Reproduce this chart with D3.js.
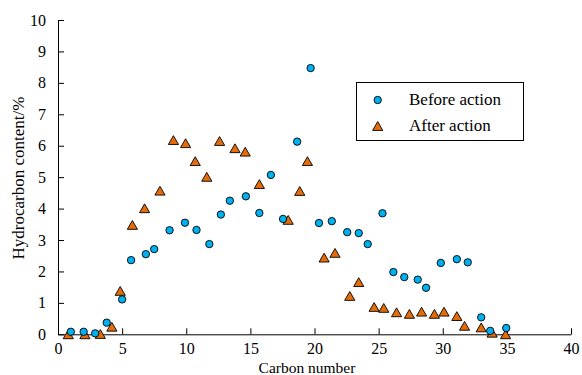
<!DOCTYPE html>
<meta charset="utf-8">
<style>
body { margin: 0; background: #fff; }
.axis path, .axis line { stroke: #000; stroke-width: 1; }
</style>
<svg width="582" height="375"></svg>
<script src="https://cdn.jsdelivr.net/npm/d3@7"></script>
<script>

// before action (blue)
var beforeCarbon = [1, 2, 2.9, 3.8, 5, 5.7, 6.85, 7.5, 8.7, 9.9, 10.8, 11.8, 12.7, 13.4, 14.65, 15.7, 16.6, 17.55,
  18.65, 19.7, 20.35, 21.35, 22.55, 23.45, 24.15, 25.3, 26.15, 27, 28.05, 28.7, 29.85, 31.1, 31.95, 33, 33.7, 34.95];
var beforeValue = [0.08, 0.08, 0.03, 0.37, 1.11, 2.36, 2.55, 2.71, 3.31, 3.55, 3.32, 2.87, 3.81, 4.25, 4.39, 3.86, 5.07, 3.67,
  6.13, 8.47, 3.54, 3.6, 3.25, 3.22, 2.87, 3.85, 1.98, 1.82, 1.74, 1.48, 2.27, 2.39, 2.29, 0.54, 0.11, 0.2];

// after action (orange)
var afterCarbon = [0.8, 2.1, 3.3, 4.2, 4.85, 5.8, 6.75, 7.95, 9, 9.95, 10.7, 11.6, 12.6, 13.8, 14.6, 15.7, 17.95,
  18.85, 19.45, 20.75, 21.6, 22.75, 23.45, 24.65, 25.4, 26.4, 27.4, 28.35, 29.35, 30.1, 31.1, 31.7, 33, 33.85, 34.9];
var afterValue = [0, 0, 0.01, 0.24, 1.38, 3.48, 4.01, 4.57, 6.18, 6.08, 5.51, 5.01, 6.15, 5.92, 5.81, 4.78, 3.64,
  4.56, 5.51, 2.44, 2.59, 1.22, 1.66, 0.87, 0.84, 0.7, 0.65, 0.72, 0.65, 0.72, 0.58, 0.27, 0.22, 0.05, 0];

var seriesNames = ["Before action", "After action"];
var xTicks = [0, 5, 10, 15, 20, 25, 30, 35, 40];
var yTicks = [0, 1, 2, 3, 4, 5, 6, 7, 8, 9, 10];

var serif = "'Liberation Serif', 'Times New Roman', Tinos, 'DejaVu Serif', serif";

var svg = d3.select("svg");

var x = d3.scaleLinear().domain([0, 40]).range([58, 571]);
var y = d3.scaleLinear().domain([0, 10]).range([334.3, 20]);

svg.append("g")
    .attr("class", "axis")
    .attr("transform", "translate(0," + y(0) + ")")
    .call(d3.axisBottom(x).tickValues(xTicks).tickSizeInner(-6).tickSizeOuter(0).tickPadding(8))
    .attr("font-family", serif)
    .attr("font-size", 16);

svg.append("g")
    .attr("class", "axis")
    .attr("transform", "translate(" + x(0) + ",0)")
    .call(d3.axisLeft(y).tickValues(yTicks).tickSizeInner(-6).tickSizeOuter(0).tickPadding(12))
    .attr("font-family", serif)
    .attr("font-size", 16);

svg.append("text")
    .attr("x", 307)
    .attr("y", 373)
    .attr("text-anchor", "middle")
    .attr("font-family", serif)
    .attr("font-size", 15.5)
    .text("Carbon number");

svg.append("text")
    .attr("transform", "translate(24,178) rotate(-90)")
    .attr("text-anchor", "middle")
    .attr("font-family", serif)
    .attr("font-size", 17)
    .text("Hydrocarbon content/%");

// triangle centred on its bounding box
var triangle = {
  draw: function (ctx, size) {
    var w = Math.sqrt(size * 4 / Math.sqrt(3));
    var h = w * Math.sqrt(3) / 2;
    ctx.moveTo(0, -h / 2);
    ctx.lineTo(w / 2, h / 2);
    ctx.lineTo(-w / 2, h / 2);
    ctx.closePath();
  }
};
var triPath = d3.symbol().type(triangle).size(45)();

var after = afterCarbon.map(function (c, i) { return { c: c, v: afterValue[i] }; });
var before = beforeCarbon.map(function (c, i) { return { c: c, v: beforeValue[i] }; });

svg.append("g")
  .selectAll("path")
  .data(after)
  .enter().append("path")
    .attr("d", triPath)
    .attr("transform", function (d) { return "translate(" + x(d.c) + "," + y(d.v) + ")"; })
    .attr("fill", "#E46C0A")
    .attr("stroke", "#000")
    .attr("stroke-width", 0.9);

svg.append("g")
  .selectAll("circle")
  .data(before)
  .enter().append("circle")
    .attr("cx", function (d) { return x(d.c); })
    .attr("cy", function (d) { return y(d.v); })
    .attr("r", 3.7)
    .attr("fill", "#00B0F0")
    .attr("stroke", "#000")
    .attr("stroke-width", 0.9);

// legend
var legend = svg.append("g");
legend.append("rect")
    .attr("x", 356.5)
    .attr("y", 82.5)
    .attr("width", 167)
    .attr("height", 58)
    .attr("fill", "#fff")
    .attr("stroke", "#000")
    .attr("stroke-width", 1);

legend.append("circle")
    .attr("cx", 377.7)
    .attr("cy", 100)
    .attr("r", 3.7)
    .attr("fill", "#00B0F0")
    .attr("stroke", "#000")
    .attr("stroke-width", 0.9);

legend.append("path")
    .attr("d", triPath)
    .attr("transform", "translate(377.7,126)")
    .attr("fill", "#E46C0A")
    .attr("stroke", "#000")
    .attr("stroke-width", 0.9);

legend.selectAll("text.lbl")
  .data(seriesNames)
  .enter().append("text")
    .attr("class", "lbl")
    .attr("x", 409)
    .attr("y", function (d, i) { return 105 + i * 26; })
    .attr("font-family", serif)
    .attr("font-size", 17)
    .text(function (d) { return d; });

</script>
